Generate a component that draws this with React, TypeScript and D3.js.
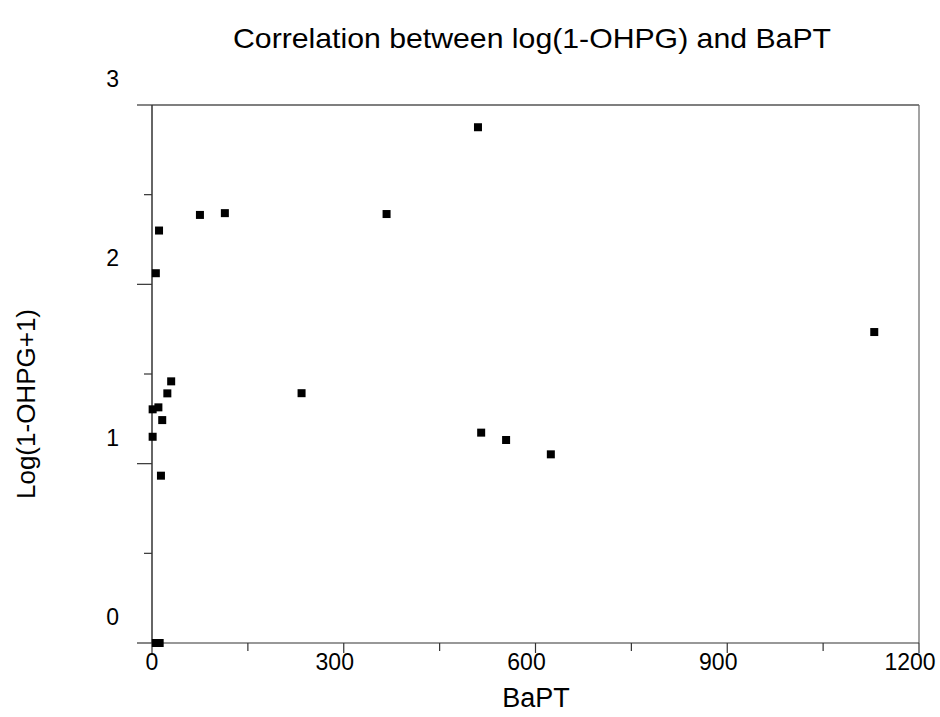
import React from "react";
import * as d3 from "d3";

const TITLE = "Correlation between log(1-OHPG) and BaPT";
const X_LABEL = "BaPT";
const Y_LABEL = "Log(1-OHPG+1)";

const bapt = [510, 367, 114, 75, 11, 6, 1130, 234, 30, 24, 10, 1, 16, 1, 14, 515, 554, 624, 6, 12];
const logOhpg = [2.876, 2.392, 2.397, 2.387, 2.3, 2.062, 1.734, 1.393, 1.459, 1.392, 1.314, 1.303, 1.243, 1.15, 0.933, 1.173, 1.132, 1.052, 0, 0];

const xMajor = [0, 300, 600, 900, 1200];
const xMinor = [150, 450, 750, 1050];
const yMajor = [0, 1, 2, 3];
const yMinor = [0.5, 1.5, 2.5];

export default function App() {
  const W = 940, H = 717;
  const left = 152, right = 919, top = 105, bottom = 643;
  const x = d3.scaleLinear().domain([0, 1200]).range([left, right]);
  const y = d3.scaleLinear().domain([0, 3]).range([bottom, top]);
  const font = "'Liberation Sans', Arial, sans-serif";
  const sq = 8;
  return (
    <svg width={W} height={H} style={{ position: "absolute", left: 0, top: 0 }} fontFamily={font}>
      <rect width={W} height={H} fill="#fff" />
      <text x={532} y={48} textAnchor="middle" fontSize={28.5} fill="#000" textLength={598} lengthAdjust="spacingAndGlyphs">{TITLE}</text>
      {/* frame */}
      <line x1={left} x2={right} y1={top} y2={top} stroke="#555" strokeWidth={1.5} />
      <line x1={right} x2={right} y1={top} y2={bottom} stroke="#666" strokeWidth={1.2} />
      {/* axes */}
      <line x1={left} x2={left} y1={top} y2={bottom} stroke="#333" strokeWidth={1.5} />
      <line x1={left} x2={right} y1={bottom} y2={bottom} stroke="#333" strokeWidth={1.2} />
      {yMajor.map((v) => (
        <g key={"ym" + v}>
          <line x1={left - 15} x2={left} y1={y(v)} y2={y(v)} stroke="#333" strokeWidth={1.2} />
          <text x={119} y={y(v) - 18} textAnchor="end" fontSize={23} fill="#000">{v}</text>
        </g>
      ))}
      {yMinor.map((v) => (
        <line key={"yn" + v} x1={left - 8} x2={left} y1={y(v)} y2={y(v)} stroke="#333" strokeWidth={1.2} />
      ))}
      {xMajor.map((v) => (
        <g key={"xm" + v}>
          <line x1={x(v)} x2={x(v)} y1={bottom} y2={bottom + 10} stroke="#333" strokeWidth={1.2} />
          <text x={x(v) + (v === 0 ? 0 : -9)} y={670} textAnchor="middle" fontSize={23} fill="#000">{v}</text>
        </g>
      ))}
      {xMinor.map((v) => (
        <line key={"xn" + v} x1={x(v)} x2={x(v)} y1={bottom} y2={bottom + 8} stroke="#333" strokeWidth={1.2} />
      ))}
      <text x={536} y={707} textAnchor="middle" fontSize={27} fill="#000">{X_LABEL}</text>
      <text transform={`translate(35, 404) rotate(-90)`} textAnchor="middle" fontSize={26} fill="#000">{Y_LABEL}</text>
      {bapt.map((b, i) => (
        <rect key={i} x={x(b) - sq / 2} y={y(logOhpg[i]) - sq / 2} width={sq} height={sq} fill="#000" />
      ))}
    </svg>
  );
}
